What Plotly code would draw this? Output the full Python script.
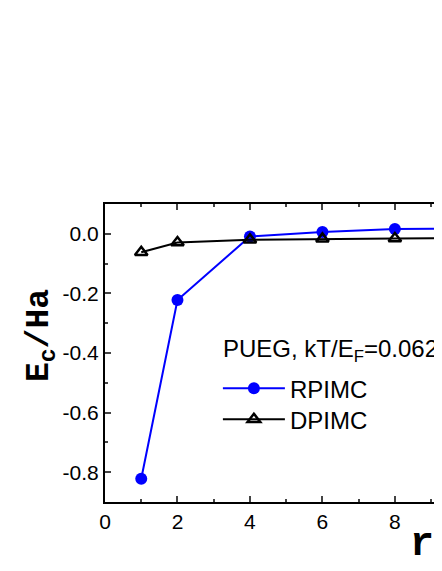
import plotly.graph_objects as go

# correlation energy vs r_s
rs = [1, 2, 4, 6, 8, 10]
rpimc = [-0.822, -0.222, -0.009, 0.006, 0.016, 0.018]
dpimc = [-0.062, -0.029, -0.020, -0.017, -0.016, -0.014]

ytick_vals = [0.0, -0.2, -0.4, -0.6, -0.8]
ytick_text = ["0.0", "-0.2", "-0.4", "-0.6", "-0.8"]
xtick_vals = [0, 2, 4, 6, 8]

sans = "Liberation Sans, Arial, sans-serif"
mono = "Liberation Mono, Courier New, monospace"

fig = go.Figure()

fig.add_trace(go.Scatter(
    x=rs, y=rpimc, name="RPIMC", mode="lines+markers",
    line=dict(color="#0000ff", width=2),
    marker=dict(symbol="circle", size=12, color="#0000ff"),
    legend="legend"))

fig.add_trace(go.Scatter(
    x=rs, y=dpimc, name="DPIMC", mode="lines+markers",
    line=dict(color="black", width=2),
    marker=dict(symbol="triangle-up-open", size=11, color="black",
                line=dict(width=2.5, color="black")),
    legend="legend2"))

fig.update_xaxes(
    range=[0, 9.3], tickvals=xtick_vals, ticks="inside", ticklen=6, tickwidth=2,
    minor=dict(dtick=1, ticks="inside", ticklen=3, tickwidth=1.5),
    showline=True, linewidth=2, linecolor="black", mirror="ticks",
    showgrid=False, zeroline=False,
    tickfont=dict(family=sans, size=21, color="black"))

fig.update_yaxes(
    range=[-0.9, 0.1], tickvals=ytick_vals, ticktext=ytick_text,
    ticks="inside", ticklen=6, tickwidth=2,
    minor=dict(dtick=0.1, tick0=0, ticks="inside", ticklen=3, tickwidth=1.5),
    showline=True, linewidth=2, linecolor="black", mirror=False,
    showgrid=False, zeroline=False,
    tickfont=dict(family=sans, size=21, color="black"))

fig.add_annotation(
    text="<b>E<sub>c</sub>/Ha</b>", textangle=-90, showarrow=False,
    xref="paper", yref="paper", x=-0.19, y=0.56, xanchor="center", yanchor="middle",
    font=dict(family=mono, size=33, color="black"))

fig.add_annotation(
    text="<b>r<sub>s</sub></b>", showarrow=False,
    xref="paper", yref="paper", x=0.9, y=-0.06, xanchor="left", yanchor="top",
    font=dict(family=mono, size=40, color="black"))

# legend heading as plain text so it can run past the right edge
fig.add_annotation(
    text="PUEG, kT/E<sub>F</sub>=0.0625", showarrow=False,
    xref="paper", yref="paper", x=0.345, y=0.51, xanchor="left", yanchor="middle",
    font=dict(family=sans, size=24, color="black"))

legend_style = dict(
    x=0.335, xanchor="left", yanchor="top",
    bgcolor="rgba(0,0,0,0)",
    font=dict(family=sans, size=24, color="black"),
    itemwidth=62)

# page body adds an 8px offset, so the figure is drawn 8px smaller
fig.update_layout(
    width=434, height=563,
    margin=dict(l=97, r=0, t=196, b=69),
    plot_bgcolor="white", paper_bgcolor="white",
    legend=dict(y=0.456, **legend_style),
    legend2=dict(y=0.352, **legend_style),
    showlegend=True)

fig.write_html("out.html")
